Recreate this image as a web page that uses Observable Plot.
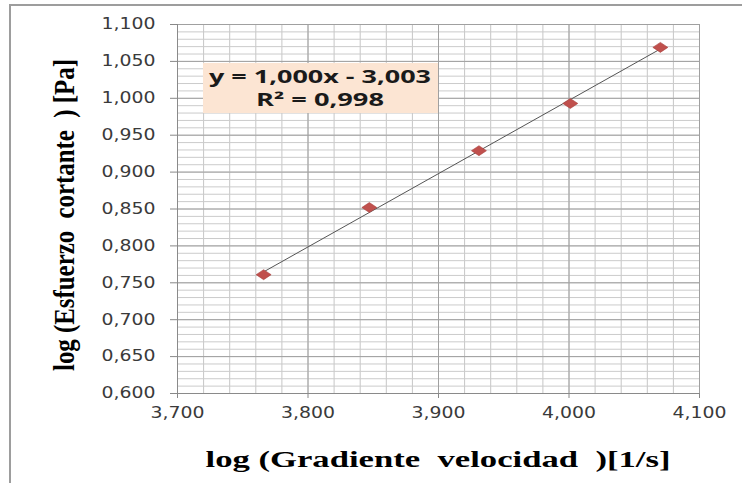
<!DOCTYPE html>
<html><head><meta charset="utf-8">
<script src="https://cdn.jsdelivr.net/npm/d3@7"></script>
<script src="https://cdn.jsdelivr.net/npm/@observablehq/plot@0.6"></script>
<style>
body{margin:0;background:#fff;}
#wrap{position:relative;width:742px;height:483px;overflow:hidden;}
#frame{position:absolute;left:9px;top:4px;right:-10px;bottom:-10px;border-top:2px solid #9d9d9d;border-left:2px solid #9d9d9d;pointer-events:none;}
</style></head><body><div id="wrap"><div id="frame"></div></div>
<script>
// Data
const gradiente = [3.766, 3.847, 3.931, 4.001, 4.070];   // log(Gradiente velocidad) [1/s]
const esfuerzo  = [0.761, 0.852, 0.929, 0.993, 1.069];   // log(Esfuerzo cortante) [Pa]
const xTicks = [3.7, 3.8, 3.9, 4.0, 4.1];
const yTicks = [0.60, 0.65, 0.70, 0.75, 0.80, 0.85, 0.90, 0.95, 1.00, 1.05, 1.10];
const equationLines = ["y = 1,000x - 3,003", "R² = 0,998"];
const xLabel = "log (Gradiente  velocidad  )[1/s]";
const yLabel = "log (Esfuerzo  cortante  ) [Pa]";

const points = gradiente.map((x, i) => ({x, y: esfuerzo[i]}));
const xMinor = d3.range(0, 21).map(i => 3.7 + i * 0.02);
const yMinor = d3.range(0, 51).map(i => 0.6 + i * 0.01);
const fmt = d => d.toFixed(3).replace(".", ",");

const diamond = {
  draw(ctx, size) {
    const w = 7.5, h = 5;
    ctx.moveTo(0, -h); ctx.lineTo(w, 0); ctx.lineTo(0, h); ctx.lineTo(-w, 0); ctx.closePath();
  }
};

const chart = Plot.plot({
  width: 742, height: 483,
  marginLeft: 177, marginRight: 43, marginTop: 24, marginBottom: 90,
  x: {domain: [3.7, 4.1]},
  y: {domain: [0.6, 1.1]},
  style: {fontFamily: "DejaVu Sans", fontSize: "15px", color: "#3a3a3a", background: "transparent"},
  marks: [
    Plot.ruleX(xMinor, {stroke: "#c6c6c6", strokeWidth: 1}),
    Plot.ruleY(yMinor, {stroke: "#cbcbcb", strokeWidth: 1}),
    Plot.ruleX(xTicks, {stroke: "#a0a0a0", strokeWidth: 1}),
    Plot.ruleY(yTicks, {stroke: "#a0a0a0", strokeWidth: 1}),
    Plot.axisX({ticks: xTicks, tickFormat: fmt, tickSize: 5, tickPadding: 9, label: null, stroke: "#888"}),
    Plot.axisY({ticks: yTicks, tickFormat: fmt, tickSize: 7, tickPadding: 15, label: null, stroke: "#888"}),
    Plot.ruleX([3.7], {stroke: "#8a8a8a"}),
    Plot.ruleY([0.6], {stroke: "#8a8a8a"}),
    Plot.linearRegressionY(points, {x: "x", y: "y", ci: 0, stroke: "#555", strokeWidth: 1}),
    Plot.dot(points, {x: "x", y: "y", symbol: diamond, fill: "#c0504d", stroke: "#a8403d", strokeWidth: 0.6})
  ]
});

document.getElementById("wrap").prepend(chart);
const svg = d3.select(chart);

svg.selectAll("g[aria-label='y-axis tick label'] text")
  .attr("textLength", 54).attr("lengthAdjust", "spacingAndGlyphs");
svg.selectAll("g[aria-label='x-axis tick label'] text")
  .attr("textLength", 54).attr("lengthAdjust", "spacingAndGlyphs");

// Trendline annotation box
const ann = svg.append("g");
ann.append("rect").attr("x", 203).attr("y", 63).attr("width", 235).attr("height", 50).attr("fill", "#fce5d3");
ann.selectAll("text").data(equationLines).join("text")
  .attr("x", 320).attr("y", (d, i) => 83 + i * 23)
  .attr("text-anchor", "middle")
  .attr("font-family", "Open Sans").attr("font-weight", "bold").attr("font-size", 17)
  .attr("fill", "#1a1a1a")
  .attr("textLength", (d, i) => i === 0 ? 222 : 128).attr("lengthAdjust", "spacingAndGlyphs")
  .text(d => d);

// Axis titles
svg.append("text")
  .attr("x", 438).attr("y", 467).attr("text-anchor", "middle")
  .attr("font-family", "Liberation Serif").attr("font-weight", "bold").attr("font-size", 24)
  .attr("fill", "#000")
  .attr("textLength", 465).attr("lengthAdjust", "spacingAndGlyphs")
  .text(xLabel);
svg.append("text")
  .attr("transform", "translate(74,215) rotate(-90)").attr("text-anchor", "middle")
  .attr("font-family", "Liberation Serif").attr("font-weight", "bold").attr("font-size", 29)
  .attr("fill", "#000")
  .attr("textLength", 312).attr("lengthAdjust", "spacingAndGlyphs")
  .text(yLabel);
</script>
</body></html>
